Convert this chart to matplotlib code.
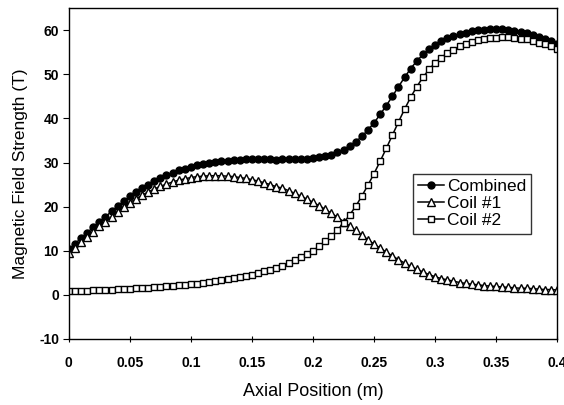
import numpy as np
from matplotlib import pyplot as plt

plt.rcParams['font.family'] = ['Liberation Sans', 'DejaVu Sans']

# 轴向位置 (m)，步长 0.005
x = np.round(np.arange(0, 0.4001, 0.005), 3)

coil1 = [9.5, 10.7, 11.9, 13.1, 14.3, 15.5, 16.6, 17.7, 18.8, 19.9,
         20.9, 21.8, 22.6, 23.3, 24.0, 24.6, 25.1, 25.6, 26.0, 26.3,
         26.6, 26.8, 26.9, 27.0, 27.0, 27.0, 26.9, 26.8, 26.6, 26.4,
         26.1, 25.8, 25.4, 25.0, 24.5, 24.2, 23.6, 23.0, 22.4, 21.7,
         21.0, 20.2, 19.4, 18.5, 17.6, 16.6, 15.6, 14.6, 13.5, 12.5,
         11.5, 10.6, 9.7, 8.8, 8.0, 7.2, 6.5, 5.8, 5.2, 4.6,
         4.1, 3.7, 3.4, 3.1, 2.8, 2.6, 2.4, 2.3, 2.1, 2.0,
         1.9, 1.8, 1.7, 1.6, 1.5, 1.5, 1.4, 1.3, 1.2, 1.2, 1.1]

coil2 = [0.8, 0.85, 0.9, 0.95, 1.0, 1.05, 1.1, 1.15, 1.25, 1.3,
         1.4, 1.5, 1.55, 1.65, 1.75, 1.85, 1.95, 2.05, 2.15, 2.25,
         2.4, 2.55, 2.7, 2.9, 3.1, 3.3, 3.5, 3.75, 4.0, 4.3,
         4.6, 4.9, 5.3, 5.7, 6.1, 6.6, 7.2, 7.8, 8.5, 9.2,
         10.0, 11.0, 12.1, 13.3, 14.7, 16.3, 18.1, 20.1, 22.4, 24.9,
         27.5, 30.3, 33.2, 36.2, 39.2, 42.1, 44.8, 47.2, 49.3, 51.1,
         52.6, 53.8, 54.8, 55.6, 56.3, 56.8, 57.3, 57.7, 58.0, 58.2,
         58.3, 58.4, 58.4, 58.3, 58.1, 57.9, 57.6, 57.2, 56.8, 56.3, 55.7]

combined = [10.3, 11.6, 12.8, 14.1, 15.3, 16.6, 17.7, 18.9, 20.1, 21.2,
            22.3, 23.3, 24.2, 25.0, 25.8, 26.5, 27.1, 27.7, 28.2, 28.6,
            29.0, 29.4, 29.6, 29.9, 30.1, 30.3, 30.4, 30.6, 30.6, 30.7,
            30.7, 30.7, 30.7, 30.7, 30.6, 30.8, 30.8, 30.8, 30.9, 30.9,
            31.0, 31.2, 31.5, 31.8, 32.3, 32.9, 33.7, 34.7, 35.9, 37.4,
            39.0, 40.9, 42.9, 45.0, 47.2, 49.3, 51.3, 53.0, 54.5, 55.7,
            56.7, 57.5, 58.2, 58.7, 59.1, 59.4, 59.7, 60.0, 60.1, 60.2,
            60.2, 60.2, 60.1, 59.9, 59.6, 59.4, 59.0, 58.5, 58.0, 57.5, 56.8]

xticks = [0, 0.05, 0.1, 0.15, 0.2, 0.25, 0.3, 0.35, 0.4]
xtick_labels = ['0', '0.05', '0.1', '0.15', '0.2', '0.25', '0.3', '0.35', '0.4']
yticks = [-10, 0, 10, 20, 30, 40, 50, 60]

fig = plt.figure(figsize=(5.64, 4.05), dpi=100)
ax = fig.add_axes([0.122, 0.163, 0.866, 0.817])

ax.plot(x, combined, color='black', lw=1.1, marker='o', ms=5,
        mfc='black', mec='black', label='Combined')
ax.plot(x, coil1, color='black', lw=1.1, marker='^', ms=5.5,
        mfc='white', mec='black', mew=1, label='Coil #1')
ax.plot(x, coil2, color='black', lw=1.1, marker='s', ms=5,
        mfc='white', mec='black', mew=1, label='Coil #2')

ax.set_xlim(0, 0.4)
ax.set_ylim(-10, 65)
ax.set_xticks(xticks)
ax.set_xticklabels(xtick_labels, fontweight='bold', fontsize=10)
ax.set_yticks(yticks)
ax.set_yticklabels([str(v) for v in yticks], fontweight='bold', fontsize=10)
ax.tick_params(axis='x', direction='inout', length=5, pad=10)
ax.tick_params(axis='y', direction='out', length=4, pad=3)
for s in ax.spines.values():
    s.set_linewidth(1)

ax.set_xlabel('Axial Position (m)', fontsize=13, labelpad=9)
ax.set_ylabel('Magnetic Field Strength (T)', fontsize=12.5, labelpad=8)

leg = ax.legend(loc='upper left', bbox_to_anchor=(0.705, 0.50), fontsize=12.5,
                frameon=True, fancybox=False, edgecolor='black',
                handlelength=1.45, handletextpad=0.2, labelspacing=0.12,
                borderpad=0.3, borderaxespad=0)
leg.get_frame().set_linewidth(1)

plt.savefig('out.png', dpi=100)
